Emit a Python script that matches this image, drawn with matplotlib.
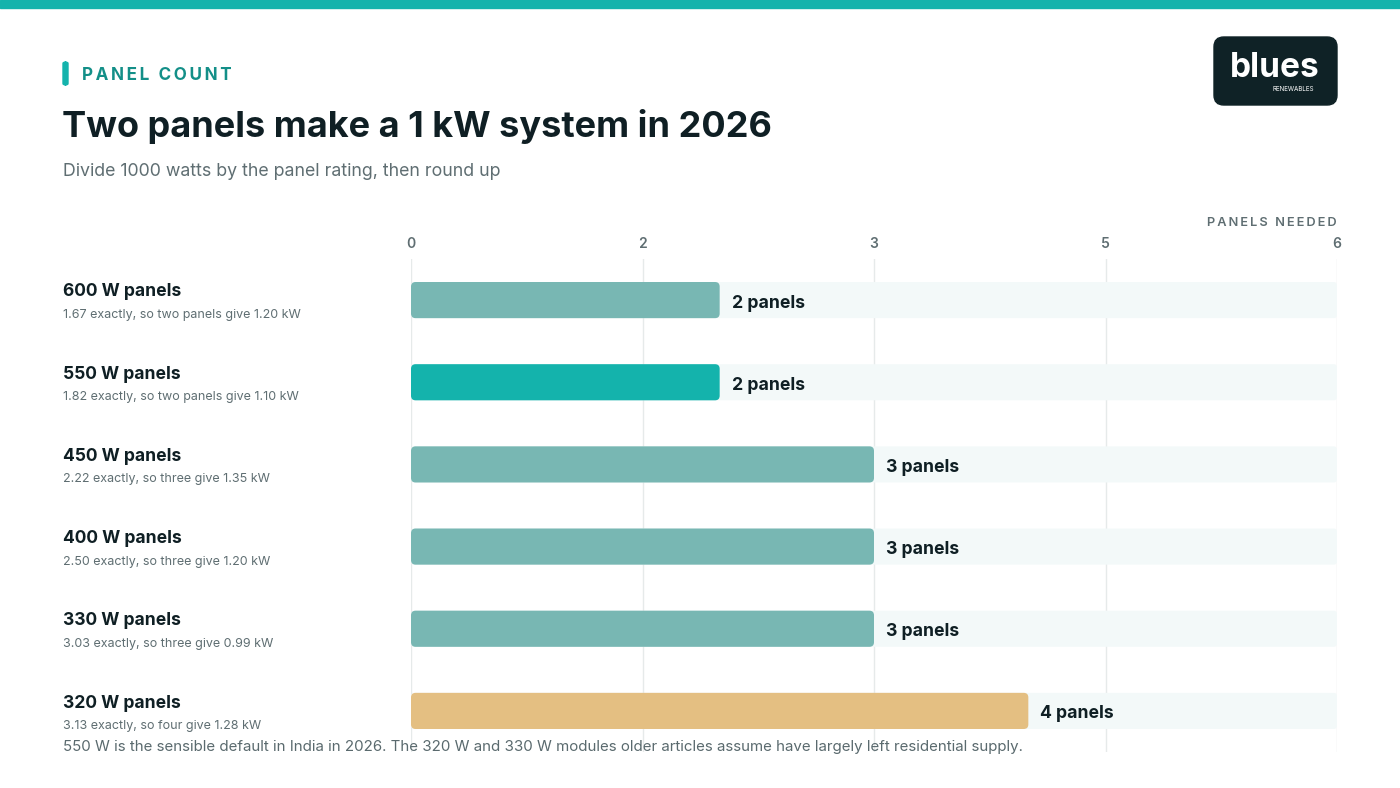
import matplotlib.pyplot as plt
import matplotlib as mpl
from matplotlib.patches import FancyBboxPatch, Rectangle

mpl.rcParams['font.family'] = ['Inter', 'DejaVu Sans']

ratings = ['600 W panels', '550 W panels', '450 W panels',
           '400 W panels', '330 W panels', '320 W panels']
notes = ['1.67 exactly, so two panels give 1.20 kW',
         '1.82 exactly, so two panels give 1.10 kW',
         '2.22 exactly, so three give 1.35 kW',
         '2.50 exactly, so three give 1.20 kW',
         '3.03 exactly, so three give 0.99 kW',
         '3.13 exactly, so four give 1.28 kW']
panels = [2, 2, 3, 3, 3, 4]
bar_labels = ['2 panels', '2 panels', '3 panels', '3 panels', '3 panels', '4 panels']
colors = ['#78b7b3', '#14b3ac', '#78b7b3', '#78b7b3', '#78b7b3', '#e4bf82']
tick_vals = [0, 1.5, 3, 4.5, 6]
tick_text = ['0', '2', '3', '5', '6']
xmax = 6

W, H = 1400, 788
fig = plt.figure(figsize=(14, 7.88), dpi=100)
fig.patch.set_facecolor('white')

def fx(px):
    return px / W

def fy(py):
    return 1 - py / H

# top strip
fig.patches.append(Rectangle((0, fy(8)), 1, 8 / H, transform=fig.transFigure,
                             color='#14b3ac', zorder=0))
# eyebrow marker
fig.patches.append(FancyBboxPatch((fx(63), fy(85)), fx(5), 23 / H,
                                  boxstyle='round,pad=0,rounding_size=0.002',
                                  transform=fig.transFigure, color='#14b3ac'))
fig.text(fx(82), fy(76), '\u2009'.join('PANEL COUNT'), fontsize=12.3, fontweight='bold',
         color='#138f88', va='center', ha='left')
fig.text(fx(62), fy(127), 'Two panels make a 1 kW system in 2026', fontsize=26,
         fontweight='bold', color='#0f1f24', va='center', ha='left')
fig.text(fx(63), fy(171), 'Divide 1000 watts by the panel rating, then round up',
         fontsize=12.8, color='#5f6e72', va='center', ha='left')

# logo
fig.patches.append(FancyBboxPatch((fx(1214), fy(105)), fx(123), 68 / H,
                                  boxstyle='round,pad=0,rounding_size=0.007',
                                  mutation_aspect=W / H,
                                  transform=fig.transFigure, color='#0f2226'))
fig.text(fx(1275), fy(68), 'blues', fontsize=24, fontweight='bold', color='white',
         va='center', ha='center')
fig.text(fx(1293), fy(89), 'RENEWABLES', fontsize=4.5, color='white',
         va='center', ha='center')

ax = fig.add_axes([fx(411), fy(752), fx(1337 - 411), 493 / H])
ax.set_xlim(0, xmax)
ax.set_ylim(len(ratings) - 0.5, -0.5)
for s in ax.spines.values():
    s.set_visible(False)
ax.set_yticks([])
ax.set_xticks(tick_vals)
ax.set_xticklabels(tick_text)
ax.xaxis.tick_top()
ax.tick_params(axis='x', length=0, pad=6, labelsize=10, labelcolor='#5f6e72')
for lab in ax.get_xticklabels():
    lab.set_fontweight('semibold')
ax.grid(axis='x', color='#e6eaea', lw=1, zorder=0)
ax.set_axisbelow(True)

bh = 0.44
asp = 154.3 / 82.2
for i, (v, c) in enumerate(zip(panels, colors)):
    ax.add_patch(FancyBboxPatch((0, i - bh / 2), xmax, bh,
                                boxstyle='round,pad=0,rounding_size=0.02',
                                mutation_aspect=asp, color='#f3f9f9', lw=0, zorder=1))
    ax.add_patch(FancyBboxPatch((0, i - bh / 2), v, bh,
                                boxstyle='round,pad=0,rounding_size=0.03',
                                mutation_aspect=asp, color=c, lw=0, zorder=2))
    ax.annotate(bar_labels[i], (v, i), xytext=(12, -3), textcoords='offset pixels',
                fontsize=12.7, fontweight='bold',
                color='#0f1f24', va='center', ha='left', zorder=3)
    fig.text(fx(63), fy(292 + 82.2 * i), ratings[i], fontsize=12.6, fontweight='bold',
             color='#0f1f24', va='center', ha='left')
    fig.text(fx(63), fy(315 + 82.2 * i), notes[i], fontsize=9,
             color='#5f6e72', va='center', ha='left')

fig.text(fx(1337), fy(223), '\u2009'.join('PANELS NEEDED'), fontsize=9.2,
         fontweight='semibold', color='#5f6e72', va='center', ha='right')

fig.text(fx(63), fy(747), '550 W is the sensible default in India in 2026. The 320 W and 330 W '
         'modules older articles assume have largely left residential supply.',
         fontsize=10.85, color='#5a6a6e', va='center', ha='left')

fig.savefig('out.png', dpi=100, facecolor='white')
